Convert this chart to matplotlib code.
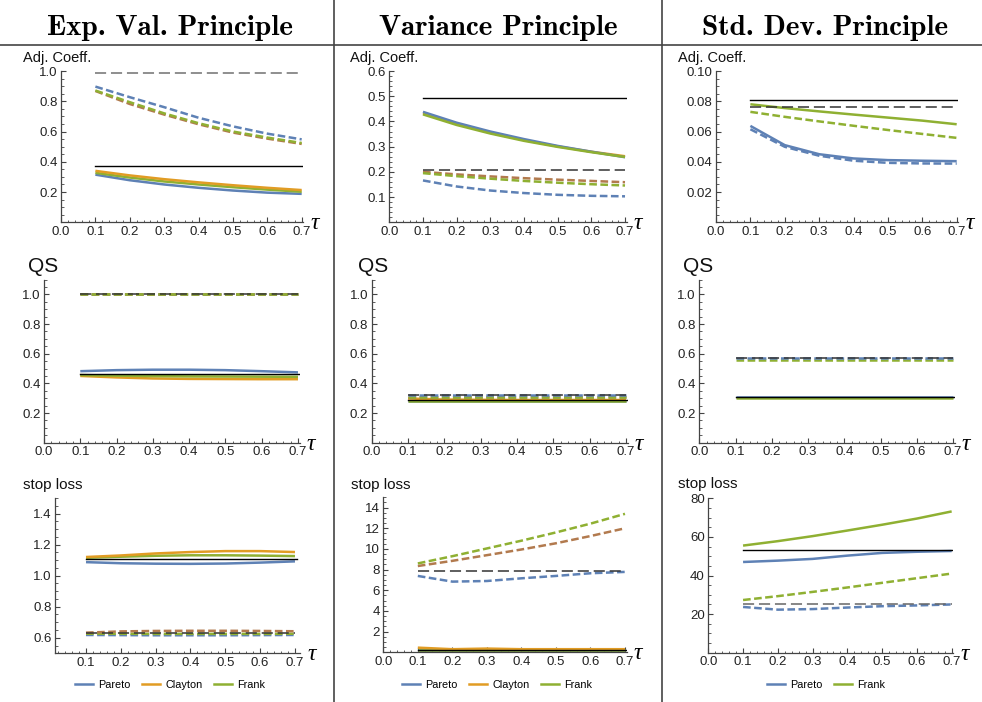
import matplotlib
matplotlib.use('Agg')
import matplotlib.pyplot as plt
from matplotlib.lines import Line2D
from matplotlib.ticker import AutoMinorLocator, FormatStrFormatter

plt.rcParams['font.family'] = ['Liberation Sans', 'DejaVu Sans']
plt.rcParams['lines.scale_dashes'] = False

W, H = 982, 702

tau = [0.1, 0.2, 0.3, 0.4, 0.5, 0.6, 0.7]
tau_ticks = [0.0, 0.1, 0.2, 0.3, 0.4, 0.5, 0.6, 0.7]

headers = ['Exp. Val. Principle', 'Variance Principle', 'Std. Dev. Principle']
row_labels = ['Adj. Coeff.', 'QS', 'stop loss']

# --- Exp. Val. principle ---
ev_adj_pareto = [0.315, 0.278, 0.250, 0.228, 0.210, 0.196, 0.188]
ev_adj_clayton = [0.340, 0.310, 0.285, 0.264, 0.245, 0.228, 0.213]
ev_adj_frank = [0.327, 0.296, 0.270, 0.250, 0.232, 0.216, 0.202]
ev_adj_pareto_d = [0.897, 0.827, 0.761, 0.691, 0.634, 0.586, 0.548]
ev_adj_clayton_d = [0.868, 0.782, 0.712, 0.648, 0.593, 0.553, 0.518]
ev_adj_frank_d = [0.871, 0.794, 0.720, 0.655, 0.600, 0.560, 0.524]
ev_adj_ref, ev_adj_ref_d = 0.373, 0.985

ev_qs_pareto = [0.482, 0.489, 0.492, 0.492, 0.489, 0.482, 0.474]
ev_qs_clayton = [0.450, 0.440, 0.433, 0.430, 0.429, 0.428, 0.428]
ev_qs_frank = [0.456, 0.452, 0.449, 0.447, 0.446, 0.445, 0.444]
ev_qs_pareto_d = [1.0, 1.0, 1.0, 1.0, 1.0, 1.0, 1.0]
ev_qs_clayton_d = [1.0, 1.0, 1.0, 1.0, 1.0, 1.0, 1.0]
ev_qs_frank_d = [1.0, 1.0, 1.0, 1.0, 1.0, 1.0, 1.0]
ev_qs_ref, ev_qs_ref_d = 0.466, 1.0

ev_sl_pareto = [1.087, 1.080, 1.077, 1.076, 1.078, 1.084, 1.092]
ev_sl_clayton = [1.120, 1.130, 1.143, 1.152, 1.158, 1.158, 1.152]
ev_sl_frank = [1.115, 1.122, 1.128, 1.131, 1.131, 1.129, 1.126]
ev_sl_pareto_d = [0.618, 0.617, 0.616, 0.616, 0.616, 0.617, 0.618]
ev_sl_clayton_d = [0.633, 0.641, 0.644, 0.645, 0.645, 0.644, 0.642]
ev_sl_frank_d = [0.626, 0.626, 0.625, 0.625, 0.625, 0.625, 0.626]
ev_sl_ref, ev_sl_ref_d = 1.104, 0.632

# --- Variance principle ---
va_adj_pareto = [0.438, 0.395, 0.360, 0.330, 0.303, 0.280, 0.258]
va_adj_clayton = [0.433, 0.390, 0.355, 0.326, 0.301, 0.280, 0.262]
va_adj_frank = [0.428, 0.386, 0.352, 0.323, 0.299, 0.278, 0.259]
va_adj_pareto_d = [0.166, 0.142, 0.126, 0.116, 0.109, 0.105, 0.103]
va_adj_clayton_d = [0.200, 0.190, 0.182, 0.175, 0.169, 0.164, 0.159]
va_adj_frank_d = [0.195, 0.183, 0.173, 0.164, 0.157, 0.151, 0.146]
va_adj_ref, va_adj_ref_d = 0.491, 0.208

va_qs_pareto = [0.284, 0.284, 0.284, 0.284, 0.284, 0.284, 0.284]
va_qs_clayton = [0.298, 0.291, 0.289, 0.288, 0.288, 0.288, 0.288]
va_qs_frank = [0.282, 0.282, 0.282, 0.282, 0.282, 0.282, 0.282]
va_qs_pareto_d = [0.323, 0.323, 0.323, 0.323, 0.323, 0.323, 0.323]
va_qs_clayton_d = [0.310, 0.310, 0.310, 0.310, 0.310, 0.310, 0.310]
va_qs_frank_d = [0.305, 0.305, 0.305, 0.305, 0.305, 0.305, 0.305]
va_qs_ref, va_qs_ref_d = 0.287, 0.322

va_sl_pareto = [0.20, 0.20, 0.20, 0.20, 0.20, 0.20, 0.20]
va_sl_clayton = [0.45, 0.30, 0.36, 0.30, 0.30, 0.30, 0.30]
va_sl_frank = [0.22, 0.22, 0.22, 0.22, 0.22, 0.22, 0.22]
va_sl_pareto_d = [7.39, 6.84, 6.90, 7.16, 7.39, 7.65, 7.78]
va_sl_clayton_d = [8.35, 8.85, 9.40, 9.95, 10.55, 11.25, 12.00]
va_sl_frank_d = [8.60, 9.30, 10.05, 10.80, 11.60, 12.45, 13.40]
va_sl_ref, va_sl_ref_d = 0.23, 7.9

# --- Std. Dev. principle ---
sd_adj_pareto = [0.0637, 0.0510, 0.0450, 0.0422, 0.0411, 0.0407, 0.0404]
sd_adj_frank = [0.0780, 0.0755, 0.0733, 0.0712, 0.0692, 0.0672, 0.0648]
sd_adj_pareto_d = [0.0615, 0.0499, 0.0440, 0.0407, 0.0393, 0.0389, 0.0388]
sd_adj_frank_d = [0.0730, 0.0697, 0.0667, 0.0638, 0.0610, 0.0584, 0.0558]
sd_adj_ref, sd_adj_ref_d = 0.0807, 0.0763

sd_qs_pareto = [0.311, 0.311, 0.311, 0.311, 0.311, 0.311, 0.311]
sd_qs_frank = [0.302, 0.302, 0.302, 0.302, 0.302, 0.302, 0.302]
sd_qs_pareto_d = [0.570, 0.570, 0.570, 0.570, 0.570, 0.570, 0.570]
sd_qs_frank_d = [0.556, 0.556, 0.556, 0.556, 0.556, 0.556, 0.556]
sd_qs_ref, sd_qs_ref_d = 0.309, 0.569

sd_sl_pareto = [47.0, 47.7, 48.6, 50.3, 51.7, 52.3, 52.7]
sd_sl_frank = [55.5, 57.8, 60.4, 63.3, 66.3, 69.5, 73.2]
sd_sl_pareto_d = [23.7, 22.3, 22.6, 23.4, 24.1, 24.5, 25.0]
sd_sl_frank_d = [27.3, 29.3, 31.5, 33.8, 36.2, 38.6, 41.0]
sd_sl_ref, sd_sl_ref_d = 53.0, 25.4

BLUE = '#5E81B5'
ORANGE = '#E19C24'
GREEN = '#8FB032'
BROWN = '#B27A4E'

fig = plt.figure(figsize=(W / 100, H / 100), dpi=100)


def make_panel(left, top, w, h, xlim, ylim, yticks, yfmt, yminor, xticks):
    ax = fig.add_axes([left / W, 1 - (top + h) / H, w / W, h / H])
    ax.patch.set_alpha(0)
    ax.set_xlim(xlim)
    ax.set_ylim(ylim)
    for s in ['top', 'right']:
        ax.spines[s].set_visible(False)
    for s in ['left', 'bottom']:
        ax.spines[s].set_color('#444444')
        ax.spines[s].set_linewidth(0.9)
    ax.set_xticks(xticks)
    ax.set_yticks(yticks)
    ax.xaxis.set_major_formatter(FormatStrFormatter('%.1f'))
    ax.yaxis.set_major_formatter(FormatStrFormatter(yfmt))
    ax.xaxis.set_minor_locator(AutoMinorLocator(5))
    ax.yaxis.set_minor_locator(AutoMinorLocator(yminor))
    ax.tick_params(which='both', direction='in', color='#444444',
                   labelsize=9.5, labelcolor='#222222')
    ax.tick_params(which='major', length=3.5, width=0.8, pad=2.5)
    ax.tick_params(which='minor', length=1.8, width=0.6)
    ax.annotate('τ', xy=(1, 0), xycoords='axes fraction',
                xytext=(5, -5), textcoords='offset points',
                fontsize=17, va='baseline', ha='left',
                family=['Liberation Serif', 'DejaVu Serif'], style='italic')
    return ax


def draw(ax, solid, dashed, ref, ref_d, ref_d_color='#333333'):
    for ys, c in solid:
        ax.plot(tau, ys, color=c, lw=1.8, solid_capstyle='butt')
    for ys, c in dashed:
        ax.plot(tau, ys, color=c, lw=1.8, dashes=(5.5, 2.5), dash_capstyle='butt')
    ax.plot([tau[0], 0.705], [ref, ref], color='black', lw=1.0)
    ax.plot([tau[0], tau[-1]], [ref_d, ref_d], color=ref_d_color, lw=1.1, dashes=(8, 3.5))


# row 1: Adj. Coeff.
ax = make_panel(61, 71, 242.4, 151.3, (0, 0.705), (0, 1.0),
                [0.2, 0.4, 0.6, 0.8, 1.0], '%.1f', 4, tau_ticks)
draw(ax, [(ev_adj_pareto, BLUE), (ev_adj_frank, GREEN), (ev_adj_clayton, ORANGE)],
     [(ev_adj_clayton_d, BROWN), (ev_adj_frank_d, GREEN), (ev_adj_pareto_d, BLUE)],
     ev_adj_ref, ev_adj_ref_d, '#707070')

ax = make_panel(389.3, 71, 237.4, 151.3, (0, 0.705), (0, 0.6),
                [0.1, 0.2, 0.3, 0.4, 0.5, 0.6], '%.1f', 5, tau_ticks)
draw(ax, [(va_adj_clayton, ORANGE), (va_adj_pareto, BLUE), (va_adj_frank, GREEN)],
     [(va_adj_clayton_d, BROWN), (va_adj_frank_d, GREEN), (va_adj_pareto_d, BLUE)],
     va_adj_ref, va_adj_ref_d)

ax = make_panel(716, 71, 242.4, 151.3, (0, 0.705), (0, 0.1),
                [0.02, 0.04, 0.06, 0.08, 0.10], '%.2f', 4, tau_ticks)
draw(ax, [(sd_adj_pareto, BLUE), (sd_adj_frank, GREEN)],
     [(sd_adj_pareto_d, BLUE), (sd_adj_frank_d, GREEN)],
     sd_adj_ref, sd_adj_ref_d)

# row 2: QS
qs_ticks = [0.2, 0.4, 0.6, 0.8, 1.0]
ax = make_panel(44, 279.5, 255.8, 163.2, (0, 0.705), (0, 1.1), qs_ticks, '%.1f', 4, tau_ticks)
draw(ax, [(ev_qs_clayton, ORANGE), (ev_qs_frank, GREEN), (ev_qs_pareto, BLUE)],
     [(ev_qs_pareto_d, BLUE), (ev_qs_clayton_d, BROWN), (ev_qs_frank_d, GREEN)],
     ev_qs_ref, ev_qs_ref_d)

ax = make_panel(371.7, 279.5, 256.1, 163.2, (0, 0.705), (0, 1.1), qs_ticks, '%.1f', 4, tau_ticks)
draw(ax, [(va_qs_pareto, BLUE), (va_qs_clayton, ORANGE), (va_qs_frank, GREEN)],
     [(va_qs_clayton_d, BROWN), (va_qs_frank_d, GREEN), (va_qs_pareto_d, BLUE)],
     va_qs_ref, va_qs_ref_d)

ax = make_panel(699.3, 279.5, 255.5, 163.2, (0, 0.705), (0, 1.1), qs_ticks, '%.1f', 4, tau_ticks)
draw(ax, [(sd_qs_pareto, BLUE), (sd_qs_frank, GREEN)],
     [(sd_qs_frank_d, GREEN), (sd_qs_pareto_d, BLUE)],
     sd_qs_ref, sd_qs_ref_d)

# row 3: stop loss
ax = make_panel(55, 498, 245.2, 155.3, (0.011, 0.715), (0.5, 1.5),
                [0.6, 0.8, 1.0, 1.2, 1.4], '%.1f', 4, tau_ticks[1:])
draw(ax, [(ev_sl_pareto, BLUE), (ev_sl_frank, GREEN), (ev_sl_clayton, ORANGE)],
     [(ev_sl_pareto_d, BLUE), (ev_sl_frank_d, GREEN), (ev_sl_clayton_d, BROWN)],
     ev_sl_ref, ev_sl_ref_d)

ax = make_panel(383.3, 497.3, 243.4, 155, (0, 0.705), (0, 15),
                [2, 4, 6, 8, 10, 12, 14], '%d', 4, tau_ticks)
draw(ax, [(va_sl_pareto, BLUE), (va_sl_frank, GREEN), (va_sl_clayton, ORANGE)],
     [(va_sl_pareto_d, BLUE), (va_sl_clayton_d, BROWN), (va_sl_frank_d, GREEN)],
     va_sl_ref, va_sl_ref_d)

ax = make_panel(708.3, 498.3, 245.1, 154.4, (0, 0.705), (0, 80),
                [20, 40, 60, 80], '%d', 4, tau_ticks)
draw(ax, [(sd_sl_pareto, BLUE), (sd_sl_frank, GREEN)],
     [(sd_sl_pareto_d, BLUE), (sd_sl_frank_d, GREEN)],
     sd_sl_ref, sd_sl_ref_d, '#666666')

# column headers and separators
for cx, txt in zip([170, 498, 825], headers):
    fig.text(cx / W, 1 - 35 / H, txt, fontsize=21, ha='center', va='baseline',
             family=['cmb10', 'DejaVu Serif'])
fig.add_artist(Line2D([0, 1], [1 - 45 / H, 1 - 45 / H], transform=fig.transFigure,
                      color='#444444', lw=1.2))
for x in [333.5, 662]:
    fig.add_artist(Line2D([x / W, x / W], [0, 1], transform=fig.transFigure,
                          color='#444444', lw=1.2))

# row labels
for (x, y), fs, txt in [((22.7, 61.7), 10.5, row_labels[0]), ((350, 61.7), 10.5, row_labels[0]),
                        ((677.7, 61.7), 10.5, row_labels[0]),
                        ((28.3, 271.7), 15, row_labels[1]), ((358, 271.7), 15, row_labels[1]),
                        ((683, 271.7), 15, row_labels[1]),
                        ((22.7, 489), 11, row_labels[2]), ((350.7, 489), 11, row_labels[2]),
                        ((677.7, 488), 11, row_labels[2])]:
    fig.text(x / W, 1 - y / H, txt, fontsize=fs, ha='left', va='baseline', color='#111111')

# legends
for cx, names, cols in [(170, ['Pareto', 'Clayton', 'Frank'], [BLUE, ORANGE, GREEN]),
                        (497, ['Pareto', 'Clayton', 'Frank'], [BLUE, ORANGE, GREEN]),
                        (826, ['Pareto', 'Frank'], [BLUE, GREEN])]:
    handles = [Line2D([], [], color=c, lw=1.8) for c in cols]
    fig.legend(handles, names, loc='center', bbox_to_anchor=(cx / W, 1 - 685 / H),
               ncol=len(names), frameon=False, fontsize=7.8, handlelength=1.7,
               handletextpad=0.5, columnspacing=1.0, borderpad=0)

fig.savefig('out.png', dpi=100)
